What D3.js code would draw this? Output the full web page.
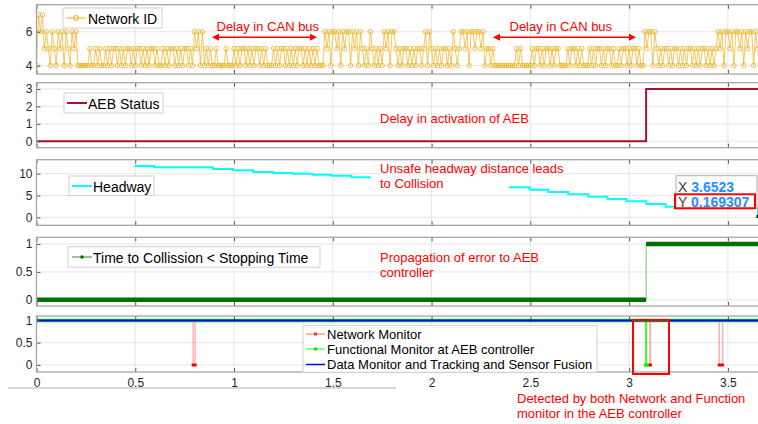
<!DOCTYPE html>
<html>
<head>
<meta charset="utf-8">
<script src="https://cdn.jsdelivr.net/npm/d3@7"></script>
<style>
  body { margin: 0; background: #fff; }
  svg { font-family: "Liberation Sans", Arial, sans-serif; }
</style>
</head>
<body>
<div id="chart"></div>
<script>
// ---- data ----
var xMax = 3.6523;
var xTicks = [0, 0.5, 1, 1.5, 2, 2.5, 3, 3.5];

// network id, one sample every 0.01 s (one row = 0.1 s)
var networkId = [
  4,7,6,7,5,6,5,4,6,5,  4,6,5,6,4,6,5,4,6,5,  6,4,4,4,4,4,4,5,4,4,
  5,4,5,4,4,5,4,5,4,5,  5,4,5,4,5,4,5,5,4,5,  4,5,5,4,5,4,5,4,5,5,
  4,5,4,4,5,4,5,4,5,5,  4,5,4,5,4,5,5,4,5,4,  6,5,6,4,6,4,5,4,5,4,
  4,5,4,4,4,4,5,4,4,4,  5,4,5,4,5,5,4,5,4,5,  4,5,5,4,5,4,5,4,4,4,
  5,4,5,4,5,5,4,5,4,5,  4,5,4,5,5,4,5,4,5,4,  5,4,5,4,4,4,6,5,6,4,
  6,6,5,6,4,6,5,6,6,4,  6,5,6,4,6,5,4,5,4,6,  5,4,5,4,5,4,6,5,6,4,
  6,6,5,4,5,4,5,5,4,5,  4,5,4,5,5,4,5,6,4,6,  5,4,5,4,5,4,5,5,4,5,
  4,6,5,4,5,6,6,5,6,4,  6,6,5,6,6,5,6,4,5,5,  4,5,4,4,4,4,4,4,4,4,
  4,4,4,5,4,5,4,4,4,4,  4,5,4,5,5,4,5,4,5,5,  4,5,4,5,5,4,4,4,4,5,
  4,5,5,4,5,4,5,4,4,4,  5,4,5,4,5,5,4,5,4,5,  5,4,5,4,4,5,4,5,5,4,
  5,4,5,5,4,5,4,4,6,5,  6,6,4,6,5,4,5,4,5,5,  4,5,4,5,5,4,5,4,5,4,
  5,5,4,5,4,5,4,5,5,4,  5,4,5,4,5,6,5,6,4,6,  6,5,6,4,6,6,5,6,4,6,
  5,6,6,4,6,5
];
var networkDt = 0.01;

var aebT = [0, 3.086, xMax];
var aebV = [0, 3, 3];

var headwayT = [0.495, 0.594, 0.894, 0.995, 1.097, 1.198, 1.296, 1.40, 1.493, 1.594, 1.692, null,
                2.393, 2.496, 2.591, 2.692, 2.793, 2.891, 2.986, 3.087, 3.185, 3.28, 3.38, 3.48, 3.58, 3.6523];
var headwayV = [11.77, 11.46, 11.08, 10.77, 10.39, 10.16, 10.0, 9.78, 9.55, 9.17, 9.17, null,
                6.88, 6.34, 5.81, 5.27, 4.74, 4.2, 3.67, 3.05, 2.44, 2.35, 2.3, 2.25, 2.2, 0.169307];

var ttcT = [0, 3.086, xMax];
var ttcV = [0, 1, 1];

var netMonT = [0, 0.793, 0.803, 3.104, 3.108, 3.456, 3.473, xMax];
var netMonV = [1, 0, 1, 0, 1, 0, 1, 1];
var funcMonT = [0, 3.084, 3.088, xMax];
var funcMonV = [1, 0, 1, 1];
var dataMonT = [0, xMax];
var dataMonV = [1, 1];

var tipX = 3.6523, tipY = 0.169307;

// ---- drawing ----
var W = 758, H = 424;
var svg = d3.select("#chart").append("svg")
    .attr("width", W)
    .attr("height", H);

var x = d3.scaleLinear().domain([0, xMax]).range([36.5, 758]);

function zip(t, v) {
    return t.map(function(d, i) { return {t: d, v: v[i]}; });
}

function runs(t, v) {
    return d3.range(t.length - 1).map(function(i) {
        return {t0: t[i], t1: t[i + 1], v: v[i]};
    });
}

var clipN = 0;
function panel(top, bottom, domain, ticks, showLabels) {
    var y = d3.scaleLinear().domain(domain).range([bottom, top]);
    var g = svg.append("g");

    // grid
    g.selectAll(".gx").data(xTicks).enter().append("line")
        .attr("x1", function(d) { return x(d); })
        .attr("x2", function(d) { return x(d); })
        .attr("y1", top).attr("y2", bottom)
        .attr("stroke", "#e6e6e6");
    g.selectAll(".gy").data(ticks).enter().append("line")
        .attr("x1", x(0)).attr("x2", W)
        .attr("y1", function(d) { return y(d); })
        .attr("y2", function(d) { return y(d); })
        .attr("stroke", "#e6e6e6");

    var id = "clip" + (clipN++);
    svg.append("clipPath").attr("id", id).append("rect")
        .attr("x", x(0)).attr("y", top)
        .attr("width", W - x(0)).attr("height", bottom - top);
    var plot = svg.append("g").attr("clip-path", "url(#" + id + ")");

    return {y: y, g: g, plot: plot, top: top, bottom: bottom, ticks: ticks, labels: showLabels};
}

function frame(p) {
    var gx = svg.append("g");
    gx.append("g")
        .attr("transform", "translate(0," + p.bottom + ")")
        .call(d3.axisBottom(x).tickValues(xTicks).tickSizeInner(-4).tickSizeOuter(0).tickPadding(6)
            .tickFormat(p.labels ? d3.format("") : function() { return ""; }));
    gx.append("g")
        .attr("transform", "translate(0," + p.top + ")")
        .call(d3.axisTop(x).tickValues(xTicks).tickSizeInner(-4).tickSizeOuter(0)
            .tickFormat(function() { return ""; }));
    gx.append("g")
        .attr("transform", "translate(" + x(0) + ",0)")
        .call(d3.axisLeft(p.y).tickValues(p.ticks).tickSizeInner(-4).tickSizeOuter(0).tickPadding(4)
            .tickFormat(d3.format("")));
    gx.selectAll(".domain").remove();
    gx.selectAll(".tick line").attr("stroke", "#555");
    gx.selectAll(".tick text").attr("fill", "#262626").style("font-size", "12px");
    svg.append("rect")
        .attr("x", x(0)).attr("y", p.top)
        .attr("width", W + 10 - x(0)).attr("height", p.bottom - p.top)
        .attr("fill", "none").attr("stroke", "#a6a6a6").attr("stroke-width", 1.3);
}

function legendBox(x0, y0, w, h) {
    svg.append("rect").attr("x", x0).attr("y", y0).attr("width", w).attr("height", h)
        .attr("fill", "#fff").attr("stroke", "#d0d0d0").attr("stroke-width", 1);
}

function label(txt, lx, ly, size, color) {
    return svg.append("text").attr("x", lx).attr("y", ly)
        .attr("dominant-baseline", "central")
        .style("font-size", size + "px").attr("fill", color || "#000").text(txt);
}

function arrowLine(t0, t1, yy) {
    svg.append("line")
        .attr("x1", t0 + 5).attr("x2", t1 - 5).attr("y1", yy).attr("y2", yy)
        .attr("stroke", "red").attr("stroke-width", 1.5);
    svg.append("path").attr("d", "M" + t0 + "," + yy + "l7,-3.5l0,7z").attr("fill", "red");
    svg.append("path").attr("d", "M" + t1 + "," + yy + "l-7,-3.5l0,7z").attr("fill", "red");
}

var stepLine = function(y) {
    return d3.line()
        .defined(function(d) { return d.v != null; })
        .x(function(d) { return x(d.t); })
        .y(function(d) { return y(d.v); })
        .curve(d3.curveStepAfter);
};

// panel 1: network id
var p1 = panel(4.7, 74, [3.5, 7.6], [4, 6], false);
var netPts = networkId.map(function(d, i) { return {t: i * networkDt, v: d}; });
p1.plot.append("path").datum(netPts)
    .attr("d", d3.line().x(function(d) { return x(d.t); }).y(function(d) { return p1.y(d.v); }))
    .attr("fill", "none").attr("stroke", "#EDB120").attr("stroke-opacity", 0.7).attr("stroke-width", 1);
p1.plot.selectAll("circle").data(netPts).enter().append("circle")
    .attr("cx", function(d) { return x(d.t); })
    .attr("cy", function(d) { return p1.y(d.v); })
    .attr("r", 2.3)
    .attr("fill", "none").attr("stroke", "#EDB120").attr("stroke-width", 0.8);
frame(p1);
legendBox(63, 8, 99, 20);
svg.append("line").attr("x1", 66).attr("x2", 86).attr("y1", 18).attr("y2", 18)
    .attr("stroke", "#EDB120").attr("stroke-width", 1);
svg.append("circle").attr("cx", 76).attr("cy", 18).attr("r", 2.5)
    .attr("fill", "none").attr("stroke", "#EDB120");
label("Network ID", 88, 18.5, 14);
label("Delay in CAN bus", 216.5, 26, 13, "red");
arrowLine(212, 317, 37.3);
label("Delay in CAN bus", 509.5, 26, 13, "red");
arrowLine(493, 636, 37.3);

// panel 2: AEB status
var p2 = panel(82.7, 147.7, [-0.37, 3.36], [0, 1, 2, 3], false);
p2.plot.append("path").datum(zip(aebT, aebV))
    .attr("d", stepLine(p2.y))
    .attr("fill", "none").attr("stroke", "#A2142F").attr("stroke-width", 2);
frame(p2);
legendBox(64, 93, 99, 20);
svg.append("line").attr("x1", 67).attr("x2", 87).attr("y1", 103).attr("y2", 103)
    .attr("stroke", "#A2142F").attr("stroke-width", 2);
label("AEB Status", 88, 103.5, 14);
label("Delay in activation of AEB", 380, 118.7, 13, "red");

// panel 3: headway
var p3 = panel(159.7, 225.3, [-1.83, 13.2], [0, 5, 10], false);
p3.plot.append("path").datum(zip(headwayT, headwayV))
    .attr("d", stepLine(p3.y))
    .attr("fill", "none").attr("stroke", "#00FFFF").attr("stroke-width", 2);
frame(p3);
legendBox(69, 176, 85, 19.5);
svg.append("line").attr("x1", 72).attr("x2", 92).attr("y1", 186).attr("y2", 186)
    .attr("stroke", "#00FFFF").attr("stroke-width", 2);
label("Headway", 93, 186.5, 14);
label("Unsafe headway distance leads", 380, 168, 13, "red");
label("to Collision", 380, 183.7, 13, "red");
// data tip
svg.append("rect").attr("x", x(tipX) - 1.5).attr("y", p3.y(tipY) - 1.5)
    .attr("width", 3).attr("height", 3).attr("fill", "#000");
svg.append("rect").attr("x", 676).attr("y", 175.7).attr("width", 81).attr("height", 32.5)
    .attr("fill", "#fff").attr("fill-opacity", 0.95).attr("stroke", "#b0b0b0");
svg.append("rect").attr("x", 675).attr("y", 194.3).attr("width", 80).attr("height", 14)
    .attr("fill", "none").attr("stroke", "red").attr("stroke-width", 2);
var tx = label("X ", 678, 186.7, 14, "#404040");
tx.append("tspan").attr("fill", "#1e90ff").attr("font-weight", "bold").text(d3.format(".5")(tipX));
var ty = label("Y ", 678, 202.3, 14, "#404040");
ty.append("tspan").attr("fill", "#1e90ff").attr("font-weight", "bold").text(d3.format(".6")(tipY));

// panel 4: time to collision
var p4 = panel(237.3, 306, [-0.11, 1.12], [0, 0.5, 1], false);
p4.plot.append("path").datum(zip(ttcT, ttcV))
    .attr("d", stepLine(p4.y))
    .attr("fill", "none").attr("stroke", "#7cc07c").attr("stroke-width", 1);
p4.plot.selectAll(".run").data(runs(ttcT, ttcV)).enter().append("line")
    .attr("x1", function(d) { return x(d.t0); })
    .attr("x2", function(d) { return x(d.t1); })
    .attr("y1", function(d) { return p4.y(d.v); })
    .attr("y2", function(d) { return p4.y(d.v); })
    .attr("stroke", "#007000").attr("stroke-width", 4.5);
frame(p4);
legendBox(68, 246.7, 252, 20.6);
svg.append("line").attr("x1", 72).attr("x2", 92).attr("y1", 257).attr("y2", 257)
    .attr("stroke", "#2e8b2e").attr("stroke-width", 1);
svg.append("circle").attr("cx", 82).attr("cy", 257).attr("r", 1.8).attr("fill", "#007000");
label("Time to Collission < Stopping Time", 93, 257.5, 14);
label("Propagation of error to AEB", 380, 257, 13, "red");
label("controller", 380, 272.7, 13, "red");

// panel 5: monitors
var p5 = panel(316, 372, [-0.16, 1.1], [0, 0.5, 1], true);
function monitor(t, v, lineColor, lineOpacity, lineWidth, runColor, runWidth) {
    p5.plot.append("path").datum(zip(t, v))
        .attr("d", stepLine(p5.y))
        .attr("fill", "none").attr("stroke", lineColor)
        .attr("stroke-opacity", lineOpacity).attr("stroke-width", lineWidth);
    p5.plot.selectAll(null).data(runs(t, v)).enter().append("line")
        .attr("x1", function(d) { return x(d.t0); })
        .attr("x2", function(d) { return x(d.t1); })
        .attr("y1", function(d) { return p5.y(d.v); })
        .attr("y2", function(d) { return p5.y(d.v); })
        .attr("stroke", runColor).attr("stroke-width", runWidth)
        .attr("stroke-linecap", "square");
}
monitor(netMonT, netMonV, "#ff0000", 0.3, 1.5, "#ff0000", 3);
monitor(funcMonT, funcMonV, "#00ff00", 0.8, 1.3, "#00ff00", 3.5);
p5.plot.append("path").datum(zip(dataMonT, dataMonV))
    .attr("d", stepLine(p5.y))
    .attr("fill", "none").attr("stroke", "#0000ff").attr("stroke-width", 2);
frame(p5);
legendBox(303, 325.7, 294, 46.6);
svg.append("line").attr("x1", 306).attr("x2", 325).attr("y1", 334).attr("y2", 334)
    .attr("stroke", "#ff9a9a").attr("stroke-width", 1.5);
svg.append("rect").attr("x", 314).attr("y", 332.5).attr("width", 3).attr("height", 3).attr("fill", "#ff3030");
svg.append("line").attr("x1", 306).attr("x2", 325).attr("y1", 349).attr("y2", 349)
    .attr("stroke", "#66ff66").attr("stroke-width", 1.5);
svg.append("circle").attr("cx", 315.5).attr("cy", 349).attr("r", 1.8).attr("fill", "#00ee00");
svg.append("line").attr("x1", 306).attr("x2", 325).attr("y1", 364.5).attr("y2", 364.5)
    .attr("stroke", "#0000ff").attr("stroke-width", 1.5);
label("Network Monitor", 327, 334, 13);
label("Functional Monitor at AEB controller", 327, 349.5, 13);
label("Data Monitor and Tracking and Sensor Fusion", 327, 364.8, 13);

// detection annotation
svg.append("rect").attr("x", 633).attr("y", 320).attr("width", 36).attr("height", 54)
    .attr("fill", "none").attr("stroke", "red").attr("stroke-width", 2);
label("Detected by both Network and Function", 517, 398, 13, "red");
label("monitor in the AEB controller", 517, 413.5, 13, "red");

svg.append("line").attr("x1", 8).attr("x2", 396).attr("y1", 388).attr("y2", 388)
    .attr("stroke", "#b0b0b0").attr("stroke-width", 1);
</script>
</body>
</html>
